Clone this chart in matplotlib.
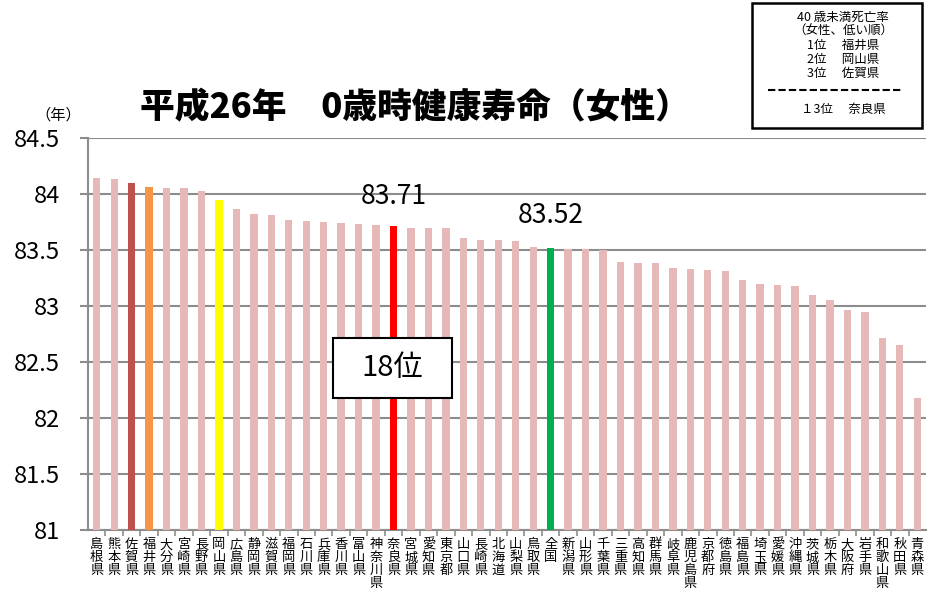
import matplotlib
matplotlib.use('Agg')
import matplotlib.pyplot as plt
from matplotlib.patches import Rectangle
from matplotlib.lines import Line2D

plt.rcParams['font.family'] = ['Noto Sans CJK JP', 'DejaVu Sans']

# data (healthy life expectancy at 0, women, H26)
prefs = ['島根県', '熊本県', '佐賀県', '福井県', '大分県', '宮崎県', '長野県', '岡山県',
         '広島県', '静岡県', '滋賀県', '福岡県', '石川県', '兵庫県', '香川県', '富山県',
         '神奈川県', '奈良県', '宮城県', '愛知県', '東京都', '山口県', '長崎県', '北海道',
         '山梨県', '鳥取県', '全国', '新潟県', '山形県', '千葉県', '三重県', '高知県',
         '群馬県', '岐阜県', '鹿児島県', '京都府', '徳島県', '福島県', '埼玉県', '愛媛県',
         '沖縄県', '茨城県', '栃木県', '大阪府', '岩手県', '和歌山県', '秋田県', '青森県']
values = [84.14, 84.13, 84.10, 84.06, 84.05, 84.05, 84.03, 83.95,
          83.87, 83.82, 83.81, 83.77, 83.76, 83.75, 83.74, 83.73,
          83.72, 83.71, 83.70, 83.70, 83.70, 83.61, 83.59, 83.59,
          83.58, 83.53, 83.52, 83.51, 83.51, 83.50, 83.39, 83.38,
          83.38, 83.34, 83.33, 83.32, 83.31, 83.23, 83.20, 83.19,
          83.18, 83.10, 83.05, 82.96, 82.95, 82.71, 82.65, 82.18]
highlight = {'佐賀県': '#C0504D', '福井県': '#F79646', '岡山県': '#FFFF00',
             '奈良県': '#FF0000', '全国': '#00B050'}
base_color = '#E6B9B8'
y_ticks = [81, 81.5, 82, 82.5, 83, 83.5, 84, 84.5]
y_tick_labels = ['81', '81.5', '82', '82.5', '83', '83.5', '84', '84.5']

legend_lines = ['40 歳未満死亡率', '（女性、低い順）', '1位　 福井県', '2位　 岡山県',
                '3位　 佐賀県', None, '１3位　 奈良県']

W, H = 930, 595
fig = plt.figure(figsize=(W / 100, H / 100), dpi=100)
ax = fig.add_axes([88 / W, 1 - 530 / H, (926 - 88) / W, (530 - 138) / H])

x = list(range(len(prefs)))
colors = [highlight.get(p, base_color) for p in prefs]
ax.bar(x, [v - 81 for v in values], width=0.42, color=colors, zorder=3, bottom=81)

ax.set_xlim(-0.5, len(prefs) - 0.5)
ax.set_ylim(81, 84.5)
ax.set_yticks(y_ticks)
ax.set_yticklabels(y_tick_labels, fontsize=17)
ax.yaxis.grid(True, color='#8C8C8C', linewidth=1.5, zorder=0)
ax.tick_params(axis='y', length=6, width=1.5, color='#8C8C8C', pad=14)

ax.set_xticks([i + 0.5 for i in x[:-1]], minor=True)
ax.set_xticks(x)
ax.set_xticklabels(['\n'.join(p) for p in prefs], fontsize=9.5, linespacing=1.0,
                   va='top')
ax.tick_params(axis='x', which='major', length=0, pad=6)
ax.tick_params(axis='x', which='minor', length=4, width=1.2, color='#8C8C8C')

for side in ['top', 'right']:
    ax.spines[side].set_visible(False)
for side in ['left', 'bottom']:
    ax.spines[side].set_color('#8C8C8C')
    ax.spines[side].set_linewidth(1.5)

# value labels
i_nara = prefs.index('奈良県')
i_all = prefs.index('全国')
ax.text(i_nara, 83.98, '%.2f' % values[i_nara], ha='center', va='center', fontsize=19)
ax.text(i_all, 83.81, '%.2f' % values[i_all], ha='center', va='center', fontsize=19)

# rank box
ax.add_patch(Rectangle((i_nara - 3.45, 82.18), 6.8, 0.535, fc='white', ec='black',
                       lw=1.5, zorder=5))
ax.text(i_nara - 0.05, 82.45, '18位', ha='center', va='center', fontsize=21, zorder=6)

fig.text(415 / W, 1 - 108 / H, '平成26年　0歳時健康寿命（女性）', ha='center', va='center',
         fontsize=25, fontweight='black')
fig.text(58 / W, 1 - 115 / H, '（年）', ha='center', va='center', fontsize=11)

# info box
fig.patches.append(Rectangle((752 / W, 1 - 128 / H), (922 - 752) / W, (128 - 3) / H,
                             transform=fig.transFigure, fill=False, ec='black', lw=1.8))
ys = [17, 31, 45, 59, 73, 90, 109]
for yy, t in zip(ys, legend_lines):
    if t is None:
        fig.lines.append(Line2D([768 / W, 902 / W], [1 - yy / H, 1 - yy / H],
                                transform=fig.transFigure, color='black', lw=1.5,
                                dashes=(3.5, 1.5)))
    else:
        fig.text(843 / W, 1 - yy / H, t, ha='center', va='center', fontsize=9)

fig.savefig('out.png', dpi=100)
